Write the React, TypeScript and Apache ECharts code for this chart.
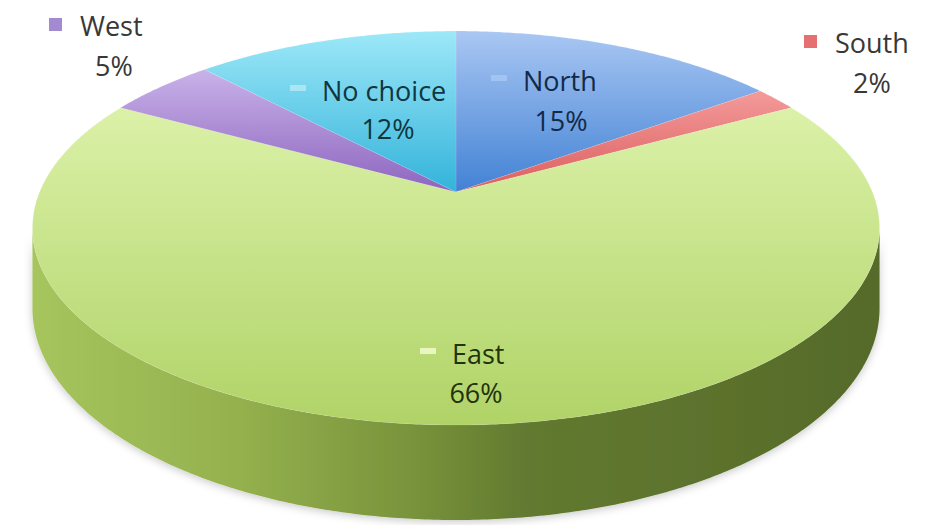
import React, { useEffect, useRef } from 'react';
import * as echarts from 'echarts';

// ---- data ----
const categories = ['North', 'South', 'East', 'West', 'No choice'];
const values = [15, 2, 66, 5, 12];
const percentLabels = ['15%', '2%', '66%', '5%', '12%'];

// ---- styles / layout ----
const topColors = [
  ['#a9c7f3', '#4282d4'],
  ['#f49a9a', '#dc5e5e'],
  ['#dbf1a8', '#b0d367'],
  ['#c9b2e9', '#8d65bf'],
  ['#9de8f8', '#33b3da'],
];
const sideStops = [
  [0, '#a6c55d'],
  [0.25, '#93b04d'],
  [0.45, '#78933b'],
  [0.58, '#627a30'],
  [1, '#566a2a'],
];
const keyColors = ['#a3c4f3', '#e66f6f', '#e8f6c2', '#a48ad0', '#aae5f4'];
const keyInside = [true, false, true, false, true];
const textColors = ['#122a48', '#383838', '#22330a', '#383838', '#10363f'];
const nameLeft = [523, 835, 452, 80, 322];
const nameMidY = [80, 42, 353, 25, 90];
const pctCenterX = [561, 872, 476, 114, 388];
const pctMidY = [120, 82, 392, 65, 128];

const FONT = '27px "Open Sans", "Noto Sans", sans-serif';

// perspective ellipse geometry
const CX = 456;
const CY = 192;
const AX = 416.4;
const BY = 190.4;
const K = 0.183;
const DEPTH = 77.6;

function proj(r: number, phiDeg: number) {
  const p = (phiDeg * Math.PI) / 180;
  const u = r * Math.sin(p);
  const v = -r * Math.cos(p);
  const w = 1 - K * v;
  return [CX + (AX * u) / w, CY + (BY * v) / w, w];
}

const total = values.reduce((a, b) => a + b, 0);
const sliceData: number[][] = [];
{
  let acc = 0;
  values.forEach((v, i) => {
    sliceData.push([acc, acc + v, i]);
    acc += v;
  });
}

export default function App() {
  const ref = useRef<HTMLDivElement>(null);
  useEffect(() => {
    if (!ref.current) return;
    const chart = echarts.init(ref.current, null, { renderer: 'svg' });
    const silL = (Math.acos(-K) * 180) / Math.PI;
    const silR = 360 - silL;

    const option: any = {
      animation: false,
      backgroundColor: '#ffffff',
      series: [
        {
          type: 'custom',
          coordinateSystem: 'none',
          z: 1,
          data: sliceData,
          renderItem: (params: any, api: any) => {
            const a0 = (api.value(0) / total) * 360;
            const a1 = (api.value(1) / total) * 360;
            const lo = Math.max(a0, silL);
            const hi = Math.min(a1, silR);
            if (hi <= lo) return null;
            const n = Math.max(2, Math.ceil((hi - lo) / 0.5));
            const topPts: number[][] = [];
            const botPts: number[][] = [];
            for (let j = 0; j <= n; j++) {
              const p = proj(1, lo + ((hi - lo) * j) / n);
              topPts.push([p[0], p[1]]);
              botPts.push([p[0], p[1] + DEPTH / p[2]]);
            }
            const pts = topPts.concat(botPts.reverse());
            return {
              type: 'polygon',
              shape: { points: pts },
              style: {
                fill: {
                  type: 'linear',
                  x: 0,
                  y: 0,
                  x2: 1,
                  y2: 0,
                  colorStops: sideStops.map((s) => ({ offset: s[0], color: s[1] })),
                },
                shadowBlur: 8,
                shadowColor: 'rgba(0,0,0,0.22)',
                shadowOffsetY: 2,
              },
            };
          },
        },
        {
          type: 'custom',
          coordinateSystem: 'none',
          z: 2,
          data: sliceData,
          renderItem: (params: any, api: any) => {
            const a0 = (api.value(0) / total) * 360;
            const a1 = (api.value(1) / total) * 360;
            const i = api.value(2);
            const n = Math.max(2, Math.ceil((a1 - a0) / 0.5));
            const pts: number[][] = [[CX, CY]];
            for (let j = 0; j <= n; j++) {
              const p = proj(1, a0 + ((a1 - a0) * j) / n);
              pts.push([p[0], p[1]]);
            }
            return {
              type: 'polygon',
              shape: { points: pts },
              style: {
                fill: {
                  type: 'linear',
                  x: 0,
                  y: 0,
                  x2: 0,
                  y2: 1,
                  colorStops: [
                    { offset: 0, color: topColors[i][0] },
                    { offset: 1, color: topColors[i][1] },
                  ],
                },
                stroke: 'rgba(255,255,255,0.18)',
                lineWidth: 0.6,
              },
            };
          },
        },
        {
          type: 'custom',
          coordinateSystem: 'none',
          z: 3,
          data: sliceData,
          renderItem: (params: any, api: any) => {
            const i = api.value(2);
            const children: any[] = [];
            const left = nameLeft[i];
            const my = nameMidY[i];
            if (keyInside[i]) {
              children.push({
                type: 'rect',
                shape: { x: left - 32, y: my - 5, width: 16, height: 6 },
                style: { fill: keyColors[i] },
              });
            } else {
              children.push({
                type: 'rect',
                shape: { x: left - 31, y: my - 7, width: 13, height: 13 },
                style: { fill: keyColors[i] },
              });
            }
            children.push({
              type: 'text',
              style: {
                text: categories[i],
                x: left,
                y: my,
                font: FONT,
                fill: textColors[i],
                align: 'left',
                verticalAlign: 'middle',
                textAlign: 'left',
                textVerticalAlign: 'middle',
              },
            });
            children.push({
              type: 'text',
              style: {
                text: percentLabels[i],
                x: pctCenterX[i],
                y: pctMidY[i],
                font: FONT,
                fill: textColors[i],
                align: 'center',
                verticalAlign: 'middle',
                textAlign: 'center',
                textVerticalAlign: 'middle',
              },
            });
            return { type: 'group', children };
          },
        },
      ],
    };
    chart.setOption(option);
    return () => chart.dispose();
  }, []);
  return (
    <div
      ref={ref}
      style={{ position: 'fixed', left: 0, top: 0, width: 927, height: 525 }}
    />
  );
}
